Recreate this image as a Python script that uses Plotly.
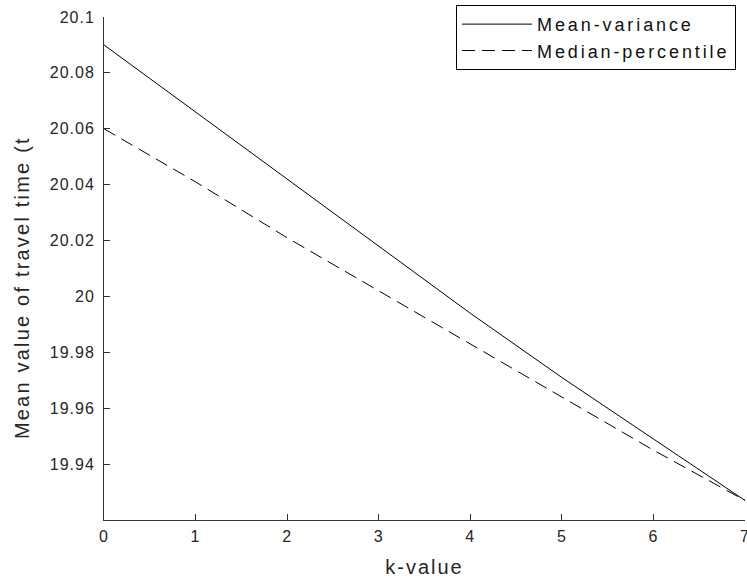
import plotly.graph_objects as go

# k values and mean travel time for the two models
k_values = [0, 1, 2, 3, 4, 5, 6, 7]
mean_variance = [20.090, 20.066, 20.042, 20.018, 19.994, 19.971, 19.949, 19.927]
median_percentile = [20.060, 20.041, 20.021, 20.002, 19.983, 19.964, 19.945, 19.927]

y_ticks = [19.94, 19.96, 19.98, 20.0, 20.02, 20.04, 20.06, 20.08, 20.1]
y_tick_text = ['19.94', '19.96', '19.98', '20', '20.02', '20.04', '20.06', '20.08', '20.1']
x_tick_text = ['0', '1', '2', '3', '4', '5', '6', '7']

font = 'Liberation Sans, Arial, sans-serif'


# matlab text is spaced wider than arial
def sp(text, px):
    return f'<span style="letter-spacing:{px}px">{text}</span>'


fig = go.Figure()
fig.add_trace(go.Scatter(
    x=k_values, y=mean_variance, mode='lines', name=sp('Mean-variance', 2.9),
    line=dict(color='black', width=1)
))
fig.add_trace(go.Scatter(
    x=k_values, y=median_percentile, mode='lines', name=sp('Median-percentile', 2.9),
    line=dict(color='black', width=1, dash='13px,7px')
))

fig.update_layout(
    width=747, height=578,
    margin=dict(l=104, r=2, t=17, b=58, autoexpand=False),
    paper_bgcolor='white', plot_bgcolor='white',
    font=dict(family=font, size=16, color='#262626'),
    legend=dict(
        x=0.986, y=1.024, xanchor='right', yanchor='top',
        bordercolor='black', borderwidth=1, bgcolor='white',
        font=dict(size=18, color='#111'), tracegroupgap=0, itemwidth=70,
    ),
    annotations=[dict(
        text=sp('Mean value of travel time (t', 2.2), textangle=-90,
        xref='paper', yref='paper', x=-0.128, y=0.463,
        xanchor='center', yanchor='middle',
        showarrow=False, font=dict(size=20, family=font, color='#262626'),
    )],
)
fig.update_xaxes(
    range=[0, 7.0001], tickvals=k_values, ticktext=[sp(t, 1) for t in x_tick_text],
    showgrid=False, zeroline=False, automargin=False, ticklabeloverflow='allow',
    showline=True, linecolor='#333', linewidth=1,
    ticks='inside', ticklen=6, tickcolor='#333', ticklabelstandoff=2,
    title=dict(text=sp('k-value', 2), font=dict(size=20), standoff=18),
)
fig.update_yaxes(
    range=[19.92, 20.1], tickvals=y_ticks, ticktext=[sp(t, 1) for t in y_tick_text],
    showgrid=False, zeroline=False, automargin=False,
    showline=True, linecolor='#333', linewidth=1,
    ticks='inside', ticklen=6, tickcolor='#333', ticklabelstandoff=5,
)

# drop the page margin so the figure fills the window exactly
fig.write_html(
    'out.html',
    config={'displayModeBar': False},
    post_script="document.body.style.margin='0';document.body.style.overflow='hidden';",
)
